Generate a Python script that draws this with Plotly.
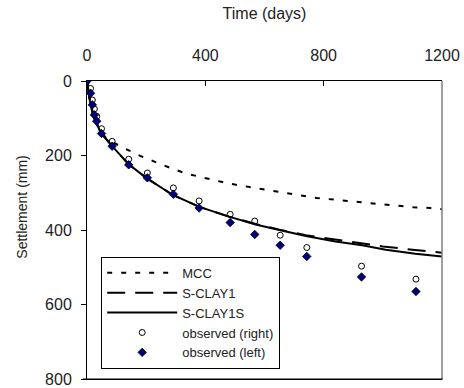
import plotly.graph_objects as go

# Observed data
obs_time = [0, 12, 18, 25, 33, 49, 85, 141, 204, 292, 379, 484, 567, 653, 743, 928, 1112]
obs_right = [0, 20, 51, 75, 95, 128, 162, 210, 247, 287, 322, 358, 376, 414, 447, 497, 532]
obs_left = [0, 33, 64, 91, 108, 141, 175, 225, 260, 304, 341, 380, 412, 441, 471, 526, 565]

# Model curves
mcc_time = [0, 5, 10, 20, 40, 65, 117, 180, 235, 280, 337, 393, 450, 500, 557, 608, 664, 720, 777, 833, 883, 940, 990, 1047, 1103, 1160, 1200]
mcc_sett = [0, 30, 52, 86, 125, 155, 177, 201, 219, 233, 249, 260, 270, 278, 286, 293, 300, 307, 314, 318, 322, 326, 331, 335, 339, 341, 344]

sclay1_time = [0, 5, 10, 20, 30, 50, 85, 140, 200, 290, 380, 480, 570, 650, 740, 800, 900, 1000, 1100, 1200]
sclay1_sett = [0, 30, 55, 90, 112, 142, 175, 223, 260, 306, 338, 364, 384, 399, 414, 421, 433, 444, 453, 461]

sclay1s_time = [0, 5, 10, 20, 30, 50, 85, 140, 200, 290, 380, 480, 570, 650, 740, 840, 930, 1010, 1110, 1200]
sclay1s_sett = [0, 30, 55, 90, 112, 142, 175, 223, 260, 306, 338, 364, 385, 400, 416, 431, 441, 453, 464, 471]

FONT = "Liberation Sans, Arial, sans-serif"

fig = go.Figure()
fig.add_trace(go.Scatter(x=mcc_time, y=mcc_sett, mode="lines", name="MCC",
                         line=dict(color="black", width=2, dash="5px,9px")))
fig.add_trace(go.Scatter(x=sclay1_time, y=sclay1_sett, mode="lines", name="S-CLAY1",
                         line=dict(color="black", width=2, dash="18px,10px")))
fig.add_trace(go.Scatter(x=sclay1s_time, y=sclay1s_sett, mode="lines", name="S-CLAY1S",
                         line=dict(color="black", width=2)))
fig.add_trace(go.Scatter(x=obs_time, y=obs_right, mode="markers", name="observed (right)",
                         marker=dict(symbol="circle-open", size=6, color="black",
                                     line=dict(color="black", width=1))))
fig.add_trace(go.Scatter(x=obs_time, y=obs_left, mode="markers", name="observed (left)",
                         marker=dict(symbol="diamond", size=6.5, color="#000080",
                                     line=dict(color="black", width=0.8))))

fig.update_layout(
    width=464, height=388,
    margin=dict(l=87, r=22, t=81, b=9, autoexpand=False),
    paper_bgcolor="white", plot_bgcolor="white",
    font=dict(family=FONT, size=16, color="#222"),
    showlegend=True,
    legend=dict(x=0.04, y=0.41, xanchor="left", yanchor="top",
                bgcolor="white", bordercolor="black", borderwidth=1,
                font=dict(family=FONT, size=13, color="#222"),
                tracegroupgap=0, itemwidth=70),
    xaxis=dict(side="top", range=[0, 1200], tickvals=[0, 400, 800, 1200],
               ticks="inside", ticklen=5, tickcolor="black",
               tickfont=dict(family=FONT, size=16), automargin=False,
               showline=True, linecolor="black", linewidth=1, mirror=True,
               showgrid=False, zeroline=False, ticklabelstandoff=13,
               ticklabeloverflow="allow",
               title=dict(text="Time (days)", font=dict(family=FONT, size=16), standoff=22)),
    yaxis=dict(range=[800, 0], tickvals=[0, 200, 400, 600, 800],
               ticks="outside", ticklen=5, tickcolor="black",
               tickfont=dict(family=FONT, size=16), automargin=False,
               showline=True, linecolor="black", linewidth=1,
               showgrid=False, zeroline=False, ticklabelstandoff=6,
               ticklabeloverflow="allow"),
    annotations=[dict(text="Settlement (mm)", textangle=-90, showarrow=False,
                      xref="paper", yref="paper", x=-0.183, y=0.575,
                      xanchor="center", yanchor="middle",
                      font=dict(family=FONT, size=14, color="#222"))],
    shapes=[dict(type="line", xref="paper", yref="paper", x0=1, x1=1, y0=0, y1=1,
                 line=dict(color="#808080", width=1.5)),
            dict(type="line", xref="paper", yref="paper", x0=-0.012, x1=1.002, y0=0, y1=0,
                 line=dict(color="black", width=1))],
)

fig.write_html("out.html", config={"displayModeBar": False},
               post_script="document.body.style.margin='0';document.body.style.overflow='hidden';")
